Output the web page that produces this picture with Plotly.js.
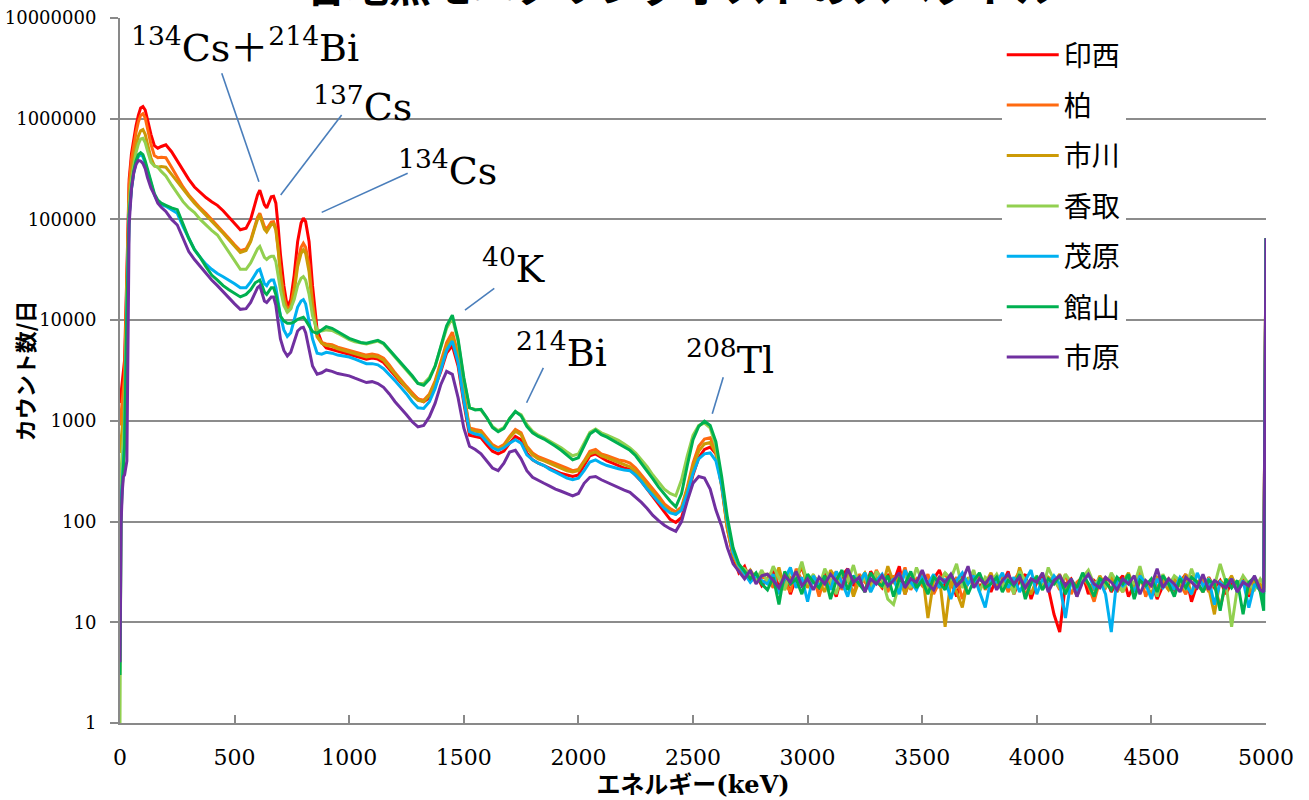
<!DOCTYPE html>
<html><head><meta charset="utf-8">
<script src="https://cdn.plot.ly/plotly-3.0.1.min.js"></script>
<style>html,body{margin:0;padding:0;background:#fff;} #chart{width:1309px;height:800px;}</style>
</head><body><div id="chart"></div>
<script>
// Energy channels (keV)
const energy = [
 0,5,10,15,20,30,40,50,60,70,80,90,100,110,120,135,150,165,180,
 200,225,250,275,300,325,350,375,400,425,450,475,500,525,
 550,570,590,600,610,620,630,640,650,660,670,680,690,700,715,730,745,760,775,790,800,810,825,840,860,880,900,
 925,950,975,1000,1025,1050,1075,1100,1125,1150,1175,1200,1225,1250,1275,1300,1325,1350,1375,1400,
 1425,1450,1475,1500,1525,1550,1575,1600,1625,1650,1675,1700,1725,1750,1775,1800,1825,1850,1875,1900,
 1925,1950,1975,2000,2025,2050,2075,2100,2125,2150,2175,2200,2225,2250,2275,2300,2325,2350,2375,2400,
 2425,2450,2475,2500,2525,2550,2575,2600,2625,2650,2675,2700,2725,2750,2775,2800,
 2825,2850,2875,2900,2925,2950,2975,3000,3025,3050,3075,3100,3125,3150,3175,3200,3225,3250,3275,3300,
 3325,3350,3375,3400,3425,3450,3475,3500,3525,3550,3575,3600,3625,3650,3675,3700,3725,3750,3775,3800,
 3825,3850,3875,3900,3925,3950,3975,4000,4025,4050,4075,4100,4125,4150,4175,4200,4225,4250,4275,4300,
 4325,4350,4375,4400,4425,4450,4475,4500,4525,4550,4575,4600,4625,4650,4675,4700,4725,4750,4775,4800,
 4825,4850,4875,4900,4925,4950,4975,4990,5000
];

const seriesNames = ['印西','柏','市川','香取','茂原','館山','市原'];
const seriesColors = ['#FF0000','#FF6A10','#CC9A06','#92D050','#00B0F0','#00B050','#7030A0'];

const inzai = [
 1500,2000,2600,3200,4000,30000,250000,450000,650000,850000,1080000,1280000,1320000,1220000,980000,700000,540000,510000,530000,
 550000,470000,380000,310000,250000,210000,185000,165000,150000,138000,122000,105000,90000,79000,
 82000,100000,145000,175000,195000,165000,140000,130000,150000,168000,170000,145000,85000,45000,22000,13500,16000,28000,60000,92000,103000,95000,60000,22000,8000,6000,5300,
 5100,4900,4700,4600,4400,4200,4100,4200,4100,3800,
 3300,2800,2400,2100,1850,1650,1550,1700,2200,3100,
 4700,5600,3500,1500,720,700,680,580,500,470,
 500,600,700,650,480,410,380,360,340,320,
 300,290,280,290,360,450,470,430,400,380,
 360,340,330,290,250,210,175,150,125,105,
 98,110,170,290,430,520,550,470,230,85,
 45,31,36,26,30,23,
 27,33,22,30,19,28,35,24,29,21,
 31,25,18,29,34,23,27,20,32,26,
 22,30,25,36,19,28,24,31,21,27,
 33,23,26,18,29,25,31,22,27,20,
 28,24,32,19,26,30,17,25,29,22,
 12,8,24,27,21,30,19,26,23,28,
 20,25,29,18,24,31,22,26,17,23,
 27,21,25,30,16,24,20,28,22,26,
 19,25,23,28,18,24,21,
 20,65000
];
const kashiwa = [
 900,1200,1700,2200,2800,25000,220000,390000,560000,730000,930000,1080000,1120000,1020000,800000,560000,430000,410000,415000,
 410000,330000,260000,210000,175000,150000,130000,115000,100000,88000,76000,65000,56000,49000,
 51000,62000,88000,105000,115000,100000,85000,80000,88000,94000,95000,82000,52000,30000,17000,12500,14000,21000,38000,53000,58000,53000,35000,15000,7000,6000,5800,
 5700,5400,5200,5000,4800,4600,4500,4600,4500,4200,
 3600,3000,2600,2200,1900,1650,1600,1850,2500,3800,
 6000,7600,4600,1900,850,820,800,680,580,540,
 580,700,820,760,560,480,440,420,400,380,
 360,340,320,330,400,500,520,470,450,430,
 410,400,380,340,290,250,210,180,150,135,
 125,140,220,380,560,660,680,520,240,90,
 48,34,29,32,25,28,
 27,22,31,25,20,34,26,23,29,18,
 28,24,32,21,27,19,30,25,22,33,
 26,20,29,24,35,21,27,23,30,19,
 25,31,22,28,17,26,24,30,21,27,
 23,29,20,26,32,18,25,28,22,24,
 27,21,30,19,25,28,23,16,26,22,
 29,24,20,27,23,31,18,25,22,28,
 21,26,24,19,29,23,27,20,25,14,
 24,28,21,26,19,25,22,
 21,65000
];
const ichikawa = [
 480,650,900,1200,1600,20000,170000,290000,420000,540000,670000,760000,780000,700000,560000,410000,340000,330000,335000,
 330000,280000,235000,200000,170000,145000,127000,110000,97000,85000,73000,63000,54000,47000,
 49000,60000,85000,100000,110000,96000,80000,75000,83000,89000,90000,78000,50000,29000,16000,12000,13000,19000,34000,46000,50000,46000,30000,13500,6800,5900,5600,
 5500,5200,5000,4800,4600,4400,4300,4400,4300,4000,
 3400,2900,2500,2100,1800,1600,1550,1800,2400,3600,
 5500,6800,4200,1800,820,790,770,650,560,520,
 560,680,790,730,540,460,420,400,380,360,
 340,320,310,320,390,470,490,450,430,410,
 390,370,350,315,270,230,195,165,140,125,
 118,135,210,350,500,590,610,480,220,85,
 46,35,28,33,27,30,
 30,24,35,21,28,26,38,22,29,25,
 20,33,27,23,30,18,26,31,24,28,
 22,36,25,29,19,27,24,32,11,26,
 28,9,26,20,14,27,25,27,24,31,
 22,26,29,21,35,24,19,27,23,28,
 25,30,22,26,18,28,24,21,29,23,
 27,20,25,31,22,26,24,19,28,25,
 21,27,23,30,19,25,28,22,12,26,
 23,29,21,25,20,27,24,
 22,65000
];
const katori = [
 1,330,500,700,1000,15000,140000,250000,360000,460000,560000,630000,640000,580000,480000,370000,340000,330000,300000,
 270000,220000,180000,150000,130000,117000,100000,88000,78000,70000,58000,48000,39000,32000,
 32000,37000,46000,51000,54000,48000,42000,40000,42000,43000,43000,38000,28000,20000,14000,12000,13000,16000,22000,26000,27000,25000,18000,11000,8000,7800,8000,
 7900,7400,6900,6400,6100,5900,5800,6000,6200,5800,
 5000,4300,3700,3200,2700,2350,2350,2700,3500,5300,
 8300,10500,6200,2600,1350,1300,1280,1070,880,800,
 860,1060,1230,1150,920,790,720,680,630,590,
 540,490,450,470,600,770,830,760,720,680,
 640,590,540,480,410,350,290,245,210,190,
 180,260,450,720,900,950,850,560,250,100,
 50,36,34,29,26,33,
 25,36,28,21,33,27,40,24,30,22,
 34,26,19,31,25,37,23,28,20,32,
 27,17,15,24,30,22,35,26,21,29,
 24,31,27,38,22,26,33,20,28,25,
 30,23,27,19,32,26,24,29,21,35,
 26,22,30,25,19,28,33,24,27,22,
 31,25,20,28,24,36,22,27,18,30,
 23,29,26,21,34,24,20,27,23,38,
 25,9,22,29,24,21,27,
 24,65000
];
const mobara = [
 100,150,250,400,600,12000,110000,200000,290000,370000,420000,440000,420000,360000,300000,220000,175000,150000,140000,
 135000,125000,115000,85000,65000,50000,42000,36000,32000,29000,27000,25000,23000,21000,
 21000,24000,29000,31000,32000,27000,23000,22000,24000,25000,25000,21000,15000,11000,8000,6900,7500,10000,13500,15500,16000,14500,10000,6500,4700,4600,4800,
 4700,4500,4400,4300,4100,3900,3700,3700,3600,3300,
 2900,2500,2150,1850,1550,1350,1330,1550,2100,3300,
 5000,6200,3800,1600,780,740,720,620,540,510,
 540,600,650,600,460,410,380,360,330,310,
 290,270,260,270,320,390,410,380,360,345,
 335,325,320,290,250,210,180,155,135,122,
 118,130,190,300,420,470,480,400,230,100,
 50,37,30,25,29,26,
 24,30,19,27,35,22,28,16,29,23,
 27,21,32,25,18,29,24,31,20,26,
 30,23,27,19,33,25,21,28,24,30,
 22,27,17,26,31,24,29,20,14,27,
 25,31,22,28,20,26,33,19,27,23,
 29,24,11,27,21,25,30,22,26,19,
 8,28,23,26,20,29,24,17,27,22,
 26,21,28,24,19,31,23,27,15,25,
 22,27,20,26,14,24,21,
 19,65000
];
const tateyama = [
 3,120,220,380,550,11000,110000,210000,300000,380000,440000,460000,440000,380000,310000,230000,180000,155000,145000,
 138000,130000,125000,90000,65000,50000,42000,34000,28000,25000,22000,20000,18500,17000,
 18000,20000,23500,24500,25000,22000,19000,18000,19500,21000,21000,18000,14000,11000,9800,9300,9300,9600,10200,10600,10700,10000,8800,7700,7400,8000,8600,
 8300,7700,7100,6600,6300,6000,5900,6100,6300,5900,
 5100,4400,3800,3300,2800,2350,2250,2600,3500,5500,
 8800,11200,6500,2700,1350,1280,1300,1080,860,780,
 840,1050,1240,1120,880,760,700,660,610,560,
 510,460,410,430,560,740,810,730,690,640,
 600,560,510,450,380,320,265,220,185,160,
 140,190,360,650,880,990,900,620,280,110,
 55,38,32,27,31,24,
 21,28,15,32,24,27,19,30,25,22,
 29,17,26,33,21,28,24,20,31,25,
 23,29,18,27,24,32,22,26,19,28,
 25,21,30,23,27,19,26,31,22,24,
 28,20,26,23,30,17,25,28,21,27,
 24,29,19,26,22,31,24,18,27,25,
 21,28,24,30,17,26,23,27,20,29,
 24,18,27,22,28,25,20,26,24,13,
 27,22,26,12,25,28,20,
 13,65000
];
const ichihara = [
 4,100,200,280,290,400,90000,200000,290000,350000,385000,380000,360000,320000,260000,205000,175000,145000,132000,
 120000,100000,88000,65000,48000,40000,34000,29000,25000,22000,19000,16500,14500,12800,
 13000,15000,19000,21000,22000,18000,15500,15000,16000,17000,17000,14000,9500,6500,5000,4400,4800,6000,7800,8400,8500,7500,5000,3500,2900,3000,3200,
 3100,2950,2850,2800,2650,2500,2400,2450,2350,2150,
 1850,1550,1350,1150,980,870,900,1100,1500,2300,
 3100,2900,1700,850,560,520,470,400,340,320,
 380,490,510,420,320,275,255,240,225,210,
 200,190,180,190,240,275,280,260,245,230,
 215,205,195,175,155,135,115,102,92,85,
 80,100,160,240,280,270,210,130,90,55,
 38,32,27,33,24,29,
 30,26,22,29,25,32,23,27,21,28,
 24,30,26,22,34,25,28,20,27,24,
 29,23,26,31,22,27,25,33,24,21,
 28,25,30,23,26,36,22,27,24,29,
 21,26,30,24,28,22,27,25,31,20,
 26,29,23,27,18,25,30,24,22,28,
 25,21,27,24,29,19,26,23,34,22,
 27,24,20,28,25,22,30,21,26,24,
 22,27,20,25,23,29,21,
 20,65000
];
const seriesValues = [inzai, kashiwa, ichikawa, katori, mobara, tateyama, ichihara];

const xTickVals = [0,500,1000,1500,2000,2500,3000,3500,4000,4500,5000];
const yTickVals = [1,10,100,1000,10000,100000,1000000,10000000];
const yTickText = ['1','10','100','1000','10000','100000','1000000','10000000'];

const labelTexts = ['<sup>134</sup>Cs＋<sup>214</sup>Bi','<sup>137</sup>Cs','<sup>134</sup>Cs','<sup>40</sup>K','<sup>214</sup>Bi','<sup>208</sup>Tl'];

seriesValues.forEach((v,i)=>{ if(v.length!==energy.length) console.error('length mismatch', seriesNames[i], v.length, energy.length); });

const traces = seriesValues.map((vals,i)=>({
  type:'scatter', mode:'lines', name:seriesNames[i], x:energy, y:vals,
  legendgroup:'g'+i,
  line:{color:seriesColors[i], width:3}
}));

const serif = 'DejaVu Serif, Noto Sans CJK JP, serif';
const cjk = 'Noto Sans CJK JP, sans-serif';
const lineCol = '#4a7ebb';

// label positions: [energy, log10(count)] of text centre; leader lines in data units
const labelPos = [[545,6.73],[1060,6.15],[1427,5.51],[1719,4.54],[1928,3.70],[2661,3.63]];
const leaders = [
  [444,6.451,606,5.375],[967,6.037,701,5.242],[1255,5.458,880,5.07],
  [1633,4.316,1505,4.10],[1847,3.527,1774,3.18],[2632,3.432,2584,3.07]
];

const annotations = labelTexts.map((t,i)=>({
  text:t, x:labelPos[i][0], y:labelPos[i][1], xref:'x', yref:'y', showarrow:false,
  xanchor:'center', yanchor:'middle', font:{family:serif, size:38, color:'#000'}
}));
annotations.push({
  text:'<b>各地点モニタリングポストのスペクトル</b>', xref:'paper', yref:'paper', x:0.49, y:1.003,
  xanchor:'center', yanchor:'bottom', showarrow:false, font:{family:cjk, size:42, color:'#000'}
});
annotations.push({
  text:'<b>カウント数/日</b>', xref:'paper', yref:'paper', x:-0.084, y:0.5, textangle:-90,
  xanchor:'center', yanchor:'middle', showarrow:false, font:{family:cjk, size:22, color:'#000'}
});

const shapes = leaders.map(l=>({
  type:'line', xref:'x', yref:'y', x0:l[0], y0:Math.pow(10,l[1]), x1:l[2], y1:Math.pow(10,l[3]),
  line:{color:lineCol, width:1.6}
}));

const layout = {
  width:1309, height:800,
  margin:{l:120, r:43, t:18, b:77},
  paper_bgcolor:'#fff', plot_bgcolor:'#fff',
  showlegend:true,
  legend:{x:0.7694, y:0.983, xanchor:'left', yanchor:'top', bgcolor:'#fff',
    font:{family:cjk, size:28, color:'#000'}, tracegroupgap:11, itemwidth:52, traceorder:'grouped'},
  xaxis:{range:[0,5000], tickvals:xTickVals, ticks:'inside', ticklen:8, tickwidth:2, tickcolor:'#898989',
    showline:true, linecolor:'#898989', linewidth:2, showgrid:false, zeroline:false,
    tickfont:{family:serif, size:22, color:'#000'}, ticklabelstandoff:14,
    title:{text:'<b>エネルギー(keV)</b>', font:{family:serif, size:24, color:'#000'}, standoff:6}},
  yaxis:{type:'log', range:[0,7], tickvals:yTickVals, ticktext:yTickText, ticks:'outside', ticklen:8, tickwidth:2,
    tickcolor:'#898989', showline:true, linecolor:'#898989', linewidth:2, showgrid:true, gridcolor:'#8c8c8c', gridwidth:2,
    zeroline:false, tickfont:{family:serif, size:18, color:'#000'}, ticklabelstandoff:10},
  annotations:annotations, shapes:shapes
};

Plotly.newPlot('chart', traces, layout, {displayModeBar:false, staticPlot:true});
</script></body></html>
